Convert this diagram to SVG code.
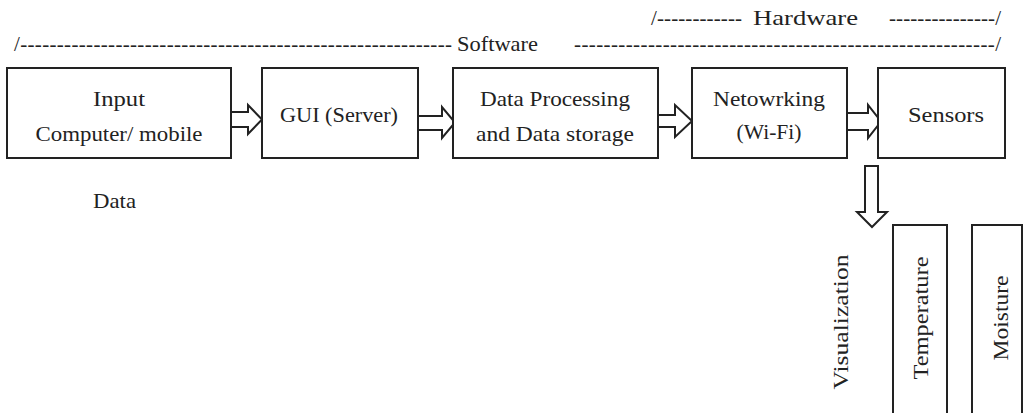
<svg xmlns="http://www.w3.org/2000/svg" width="1028" height="413" viewBox="0 0 1028 413">
<style>
text{font-family:"Liberation Serif","Times New Roman",serif;font-size:21px;fill:#222}
.c{text-anchor:middle}
.box{fill:#fff;stroke:#222;stroke-width:2}
.arr{fill:#fff;stroke:#222;stroke-width:2;stroke-linejoin:miter}
</style>
<rect width="1028" height="413" fill="#fff"/>
<g id="labels">
<text x="14" y="51" textLength="438" lengthAdjust="spacing">/-----------------------------------------------------------</text>
<text x="457" y="51" textLength="81" lengthAdjust="spacingAndGlyphs">Software</text>
<text x="574" y="51" textLength="427" lengthAdjust="spacing">---------------------------------------------------------/</text>
<text x="651" y="25" textLength="91" lengthAdjust="spacing">/------------</text>
<text x="753" y="25" textLength="105" lengthAdjust="spacingAndGlyphs">Hardware</text>
<text x="889" y="25" textLength="112" lengthAdjust="spacing">---------------/</text>
<text x="93" y="208" textLength="43" lengthAdjust="spacingAndGlyphs">Data</text>
<text transform="translate(848,322) rotate(-90)" class="c" textLength="135" lengthAdjust="spacingAndGlyphs">Visualization</text>
</g>
<g id="connectors">
<path class="arr" d="M231,112 H248 V105 L262,119.5 L248,134 V127 H231"/>
<path class="arr" d="M418,116 H442 V107 L455,122.5 L442,138 V130 H418"/>
<path class="arr" d="M658,115 H675 V105 L692,121 L675,137 V127 H658"/>
<path class="arr" d="M847,113 H868 V105 L881,121.5 L868,138 V130 H847"/>
<path class="arr" d="M865,166 H878 V212 H887 L872,227 L857,212 H865 Z"/>
</g>
<g id="n1">
<rect class="box" x="7" y="68" width="224" height="90"/>
<text class="c" x="119" y="106" textLength="52" lengthAdjust="spacingAndGlyphs">Input</text>
<text class="c" x="119" y="141" textLength="167" lengthAdjust="spacingAndGlyphs">Computer/ mobile</text>
</g>
<g id="n2">
<rect class="box" x="262" y="68" width="156" height="90"/>
<text class="c" x="339" y="122" textLength="118" lengthAdjust="spacingAndGlyphs">GUI (Server)</text>
</g>
<g id="n3">
<rect class="box" x="453" y="68" width="205" height="90"/>
<text class="c" x="555" y="106" textLength="150" lengthAdjust="spacingAndGlyphs">Data Processing</text>
<text class="c" x="555" y="141" textLength="158" lengthAdjust="spacingAndGlyphs">and Data storage</text>
</g>
<g id="n4">
<rect class="box" x="692" y="68" width="155" height="90"/>
<text class="c" x="769" y="106" textLength="112" lengthAdjust="spacingAndGlyphs">Netowrking</text>
<text class="c" x="769" y="139" textLength="65" lengthAdjust="spacingAndGlyphs">(Wi-Fi)</text>
</g>
<g id="n5">
<rect class="box" x="878" y="68" width="127" height="90"/>
<text class="c" x="946" y="122" textLength="76" lengthAdjust="spacingAndGlyphs">Sensors</text>
</g>
<g id="n6">
<rect class="box" x="893" y="225" width="54" height="192"/>
<text class="c" transform="translate(928,318) rotate(-90)" textLength="123" lengthAdjust="spacingAndGlyphs">Temperature</text>
</g>
<g id="n7">
<rect class="box" x="972" y="225" width="50" height="192"/>
<text class="c" transform="translate(1008,318) rotate(-90)" textLength="85" lengthAdjust="spacingAndGlyphs">Moisture</text>
</g>
</svg>
